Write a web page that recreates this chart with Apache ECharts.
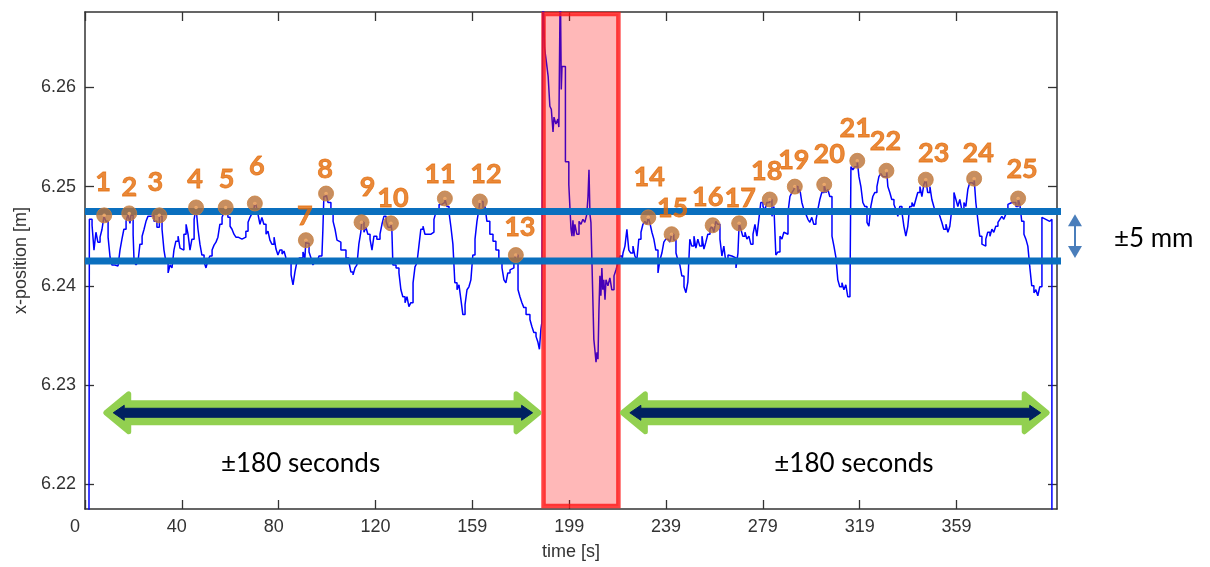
<!DOCTYPE html>
<html>
<head>
<meta charset="utf-8">
<script src="https://cdn.jsdelivr.net/npm/echarts@6/dist/echarts.min.js"></script>
<style>
  html, body { margin: 0; padding: 0; background: #ffffff; }
  #chart { width: 1210px; height: 567px; }
</style>
</head>
<body>
<div id="chart"></div>
<script>
// Axis ticks (time ticks are evenly spaced; labels are their rounded values)
const xTickValues = [0, 39.85, 79.7, 119.55, 159.4, 199.25, 239.1, 278.95, 318.8, 358.65];
const xTickLabels = ['0', '40', '80', '120', '159', '199', '239', '279', '319', '359'];
const yTickValues = [6.22, 6.23, 6.24, 6.25, 6.26];
const yTickLabels = ['6.22', '6.23', '6.24', '6.25', '6.26'];

// Measured x-position over time: [time s, position m]
const positionTrace = [
  [1.6, 6.2100], [1.8, 6.2467], [2.9, 6.2461], [3.7, 6.2436], [4.5, 6.2454], [5.3, 6.2444], [6.2, 6.2449], [7.0, 6.2457],
  [7.8, 6.2470], [8.6, 6.2465], [9.5, 6.2449], [10.3, 6.2429], [11.1, 6.2421], [12.3, 6.2420], [13.6, 6.2422], [14.4, 6.2436],
  [15.2, 6.2447], [16.0, 6.2457], [16.9, 6.2465], [17.7, 6.2472], [18.5, 6.2463], [18.9, 6.2471], [19.8, 6.2452], [20.2, 6.2424],
  [21.0, 6.2421], [21.8, 6.2424], [22.6, 6.2442], [23.5, 6.2450], [24.3, 6.2457], [25.1, 6.2465], [25.9, 6.2470], [27.2, 6.2471],
  [28.4, 6.2465], [29.6, 6.2459], [30.6, 6.2470], [31.7, 6.2457], [32.5, 6.2436], [33.3, 6.2424], [34.2, 6.2413], [35.0, 6.2421],
  [35.8, 6.2418], [36.6, 6.2436], [37.4, 6.2445], [38.3, 6.2450], [39.1, 6.2438], [39.9, 6.2436], [40.7, 6.2452], [41.6, 6.2462],
  [42.4, 6.2452], [43.2, 6.2436], [44.0, 6.2447], [44.9, 6.2467], [45.7, 6.2479], [46.5, 6.2457], [47.3, 6.2442], [48.1, 6.2431],
  [49.0, 6.2424], [49.8, 6.2418], [50.6, 6.2426], [51.4, 6.2430], [52.3, 6.2436], [53.1, 6.2441], [53.9, 6.2444], [54.7, 6.2449],
  [55.5, 6.2462], [56.4, 6.2469], [57.2, 6.2474], [57.9, 6.2478], [58.8, 6.2469], [59.7, 6.2460], [60.5, 6.2457], [61.3, 6.2452],
  [62.1, 6.2449], [63.0, 6.2451], [63.8, 6.2447], [64.6, 6.2449], [65.4, 6.2449], [66.2, 6.2455], [67.1, 6.2464], [67.9, 6.2469],
  [68.7, 6.2473], [69.5, 6.2477], [69.9, 6.2484], [70.4, 6.2481], [71.2, 6.2472], [72.0, 6.2462], [72.8, 6.2469], [73.6, 6.2462],
  [74.5, 6.2452], [75.3, 6.2455], [76.1, 6.2446], [76.9, 6.2442], [77.8, 6.2449], [78.6, 6.2437], [79.4, 6.2431], [80.2, 6.2436],
  [81.1, 6.2432], [81.9, 6.2435], [82.7, 6.2428], [83.5, 6.2424], [83.9, 6.2422], [84.8, 6.2411], [85.6, 6.2401], [86.4, 6.2414],
  [87.2, 6.2424], [88.1, 6.2428], [88.9, 6.2428], [89.7, 6.2434], [90.5, 6.2428], [90.9, 6.2446], [91.3, 6.2443], [92.2, 6.2434],
  [93.0, 6.2428], [93.8, 6.2421], [94.6, 6.2424], [95.5, 6.2424], [96.3, 6.2430], [97.1, 6.2430], [97.5, 6.2428], [97.9, 6.2457],
  [98.3, 6.2490], [99.2, 6.2493], [100.0, 6.2484], [101.2, 6.2474], [102.1, 6.2465], [102.9, 6.2457], [103.7, 6.2446], [104.5, 6.2444],
  [105.3, 6.2436], [106.2, 6.2436], [107.4, 6.2428], [108.6, 6.2424], [109.4, 6.2414], [110.3, 6.2411], [111.1, 6.2418], [111.9, 6.2421],
  [112.7, 6.2442], [113.5, 6.2454], [113.9, 6.2464], [114.8, 6.2454], [115.6, 6.2459], [116.4, 6.2452], [117.3, 6.2447], [118.1, 6.2436],
  [118.9, 6.2450], [120.1, 6.2447], [121.4, 6.2452], [122.2, 6.2462], [123.0, 6.2470], [123.9, 6.2465], [124.7, 6.2459], [125.9, 6.2463],
  [126.3, 6.2455], [126.7, 6.2421], [128.0, 6.2418], [129.2, 6.2413], [130.0, 6.2396], [130.8, 6.2389], [131.7, 6.2383], [132.5, 6.2389],
  [133.3, 6.2379], [134.1, 6.2383], [135.0, 6.2403], [135.8, 6.2419], [136.6, 6.2423], [137.4, 6.2440], [138.2, 6.2457], [139.1, 6.2460],
  [139.9, 6.2452], [141.1, 6.2452], [142.4, 6.2454], [143.6, 6.2467], [144.4, 6.2474], [145.7, 6.2482], [146.9, 6.2484], [148.1, 6.2488],
  [148.9, 6.2480], [149.8, 6.2474], [150.6, 6.2459], [151.4, 6.2442], [152.2, 6.2403], [153.1, 6.2396], [153.9, 6.2401], [154.7, 6.2386],
  [155.5, 6.2371], [156.4, 6.2381], [157.2, 6.2396], [158.0, 6.2399], [158.8, 6.2406], [159.6, 6.2431], [160.5, 6.2447], [161.3, 6.2465],
  [162.1, 6.2477], [162.5, 6.2485], [163.8, 6.2474], [164.6, 6.2480], [165.4, 6.2465], [166.6, 6.2452], [167.9, 6.2445], [169.1, 6.2436],
  [170.3, 6.2423], [171.6, 6.2418], [172.4, 6.2406], [173.2, 6.2403], [174.0, 6.2413], [174.9, 6.2416], [175.7, 6.2418], [176.5, 6.2424],
  [177.3, 6.2431], [178.2, 6.2396], [179.0, 6.2389], [179.8, 6.2383], [180.6, 6.2378], [181.5, 6.2371], [182.3, 6.2371], [183.1, 6.2366],
  [183.9, 6.2359], [184.7, 6.2353], [185.6, 6.2349], [186.4, 6.2343], [187.0, 6.2336], [187.6, 6.2356], [188.0, 6.2363], [188.4, 6.2710],
  [189.1, 6.2640], [189.9, 6.2625], [190.6, 6.2611], [191.3, 6.2581], [191.9, 6.2578], [192.6, 6.2555], [193.0, 6.2570], [193.8, 6.2563],
  [194.6, 6.2568], [195.0, 6.2560], [195.6, 6.2710], [196.0, 6.2598], [196.3, 6.2621], [197.1, 6.2621], [197.7, 6.2525], [198.3, 6.2525],
  [199.1, 6.2502], [199.6, 6.2477], [200.0, 6.2457], [200.4, 6.2450], [200.8, 6.2466], [201.2, 6.2450], [201.6, 6.2462], [202.4, 6.2452],
  [203.3, 6.2465], [204.1, 6.2462], [204.9, 6.2467], [205.7, 6.2464], [206.5, 6.2472], [207.0, 6.2490], [207.4, 6.2517], [207.8, 6.2472],
  [208.2, 6.2464], [208.6, 6.2426], [209.4, 6.2346], [209.8, 6.2336], [210.3, 6.2323], [210.7, 6.2333], [211.1, 6.2326], [211.5, 6.2376],
  [211.9, 6.2410], [212.3, 6.2390], [212.7, 6.2418], [213.1, 6.2396], [213.5, 6.2406], [214.0, 6.2386], [214.4, 6.2406], [215.2, 6.2400],
  [216.0, 6.2408], [216.8, 6.2396], [217.7, 6.2410], [218.5, 6.2416], [219.3, 6.2423], [220.1, 6.2430], [221.0, 6.2426], [221.4, 6.2433],
  [222.2, 6.2440], [223.0, 6.2457], [223.4, 6.2446], [223.8, 6.2436], [224.6, 6.2433], [225.5, 6.2440], [226.3, 6.2430], [227.1, 6.2426],
  [227.9, 6.2447], [228.8, 6.2454], [229.6, 6.2462], [230.4, 6.2465], [231.2, 6.2462], [231.8, 6.2469], [232.5, 6.2463], [233.3, 6.2454],
  [234.1, 6.2447], [234.9, 6.2436], [235.8, 6.2413], [236.6, 6.2426], [237.4, 6.2433], [238.2, 6.2444], [239.0, 6.2447], [239.9, 6.2449],
  [240.7, 6.2444], [241.4, 6.2452], [242.3, 6.2446], [243.2, 6.2433], [244.0, 6.2426], [244.8, 6.2421], [245.6, 6.2410], [246.5, 6.2399],
  [247.3, 6.2393], [248.1, 6.2404], [248.9, 6.2447], [249.7, 6.2440], [250.6, 6.2450], [251.4, 6.2438], [252.2, 6.2447], [253.0, 6.2440],
  [253.9, 6.2450], [254.7, 6.2437], [255.5, 6.2444], [256.3, 6.2452], [257.2, 6.2457], [258.0, 6.2460], [258.3, 6.2461], [258.8, 6.2454],
  [259.6, 6.2465], [260.4, 6.2462], [261.3, 6.2447], [262.1, 6.2430], [262.9, 6.2440], [263.7, 6.2424], [264.6, 6.2431], [265.4, 6.2430],
  [266.2, 6.2431], [267.0, 6.2428], [267.9, 6.2418], [268.7, 6.2433], [269.2, 6.2463], [269.9, 6.2457], [270.7, 6.2450], [271.6, 6.2454],
  [272.4, 6.2447], [273.2, 6.2450], [274.0, 6.2442], [274.9, 6.2452], [275.7, 6.2462], [276.5, 6.2450], [277.3, 6.2467], [278.1, 6.2484],
  [279.0, 6.2480], [279.8, 6.2476], [280.6, 6.2484], [281.8, 6.2487], [282.7, 6.2470], [283.5, 6.2480], [284.3, 6.2431], [285.1, 6.2434],
  [286.0, 6.2450], [286.8, 6.2447], [287.6, 6.2454], [288.4, 6.2452], [289.3, 6.2474], [290.1, 6.2490], [290.9, 6.2494], [291.7, 6.2497],
  [292.1, 6.2500], [293.4, 6.2494], [294.2, 6.2497], [295.0, 6.2484], [295.8, 6.2477], [296.7, 6.2472], [297.5, 6.2467], [298.3, 6.2464],
  [299.1, 6.2469], [299.9, 6.2462], [300.8, 6.2466], [301.6, 6.2477], [302.4, 6.2487], [303.2, 6.2494], [304.2, 6.2502], [304.9, 6.2494],
  [305.7, 6.2497], [306.5, 6.2490], [307.4, 6.2450], [308.2, 6.2440], [309.0, 6.2429], [309.8, 6.2406], [310.6, 6.2399], [311.5, 6.2403],
  [312.3, 6.2396], [313.1, 6.2401], [313.9, 6.2389], [314.8, 6.2392], [315.2, 6.2520], [316.0, 6.2517], [316.8, 6.2520], [317.8, 6.2526],
  [318.5, 6.2510], [319.3, 6.2500], [320.1, 6.2484], [320.9, 6.2480], [321.8, 6.2464], [322.6, 6.2460], [323.4, 6.2480], [324.2, 6.2490],
  [325.0, 6.2494], [325.9, 6.2500], [326.7, 6.2510], [327.5, 6.2513], [328.3, 6.2510], [329.9, 6.2516], [330.4, 6.2500], [331.2, 6.2494],
  [332.0, 6.2487], [332.9, 6.2482], [333.7, 6.2477], [334.5, 6.2470], [335.3, 6.2480], [336.2, 6.2474], [337.0, 6.2460], [337.8, 6.2450],
  [338.6, 6.2460], [339.4, 6.2480], [340.3, 6.2484], [341.1, 6.2480], [341.9, 6.2487], [342.7, 6.2494], [343.6, 6.2500], [344.4, 6.2490],
  [345.2, 6.2502], [346.0, 6.2507], [346.8, 6.2494], [347.7, 6.2500], [348.5, 6.2487], [349.3, 6.2480], [350.1, 6.2472], [351.0, 6.2477],
  [351.8, 6.2470], [352.6, 6.2464], [353.4, 6.2457], [354.3, 6.2462], [355.1, 6.2454], [355.9, 6.2460], [356.7, 6.2477], [357.6, 6.2494],
  [358.4, 6.2487], [359.2, 6.2480], [360.0, 6.2487], [360.8, 6.2477], [361.7, 6.2484], [362.5, 6.2480], [363.3, 6.2497], [364.1, 6.2504],
  [365.0, 6.2502], [365.9, 6.2508], [366.6, 6.2484], [367.4, 6.2467], [368.2, 6.2450], [369.1, 6.2442], [369.9, 6.2440], [370.7, 6.2447],
  [371.5, 6.2454], [372.4, 6.2450], [373.2, 6.2457], [374.0, 6.2454], [374.8, 6.2460], [375.7, 6.2464], [376.5, 6.2467], [377.3, 6.2470],
  [378.1, 6.2467], [378.9, 6.2472], [379.8, 6.2482], [380.6, 6.2484], [381.4, 6.2482], [382.2, 6.2484], [383.1, 6.2480], [384.0, 6.2488],
  [384.7, 6.2482], [385.5, 6.2465], [386.4, 6.2452], [387.2, 6.2447], [388.0, 6.2440], [388.8, 6.2419], [389.6, 6.2400], [390.5, 6.2393],
  [391.3, 6.2396], [392.1, 6.2390], [392.9, 6.2399], [393.8, 6.2469], [394.6, 6.2467], [395.4, 6.2469], [396.2, 6.2465], [397.0, 6.2467],
  [397.9, 6.2100]
];

// Numbered peaks
const peakTime = [7.9, 18.2, 30.6, 45.7, 57.9, 69.9, 90.9, 99.2, 113.8, 125.9, 148.1, 162.5, 177.3,
                  231.8, 241.4, 258.3, 269.2, 281.8, 292.1, 304.2, 317.8, 329.8, 346.0, 365.9, 384.0];
const peakPos = [6.2471, 6.2473, 6.2471, 6.2479, 6.2479, 6.2483, 6.2446, 6.2493, 6.2464, 6.2463, 6.2488, 6.2485, 6.2431,
                 6.2469, 6.2452, 6.2461, 6.2463, 6.2487, 6.2500, 6.2502, 6.2526, 6.2516, 6.2507, 6.2508, 6.2488];

// Tolerance band edges (m) and the time they are drawn out to (s)
const bandLevels = [6.2475, 6.2425];
const bandEnd = 409.4;

// Excluded window: [start s, end s, bottom m, top m]
const excludedWindow = [188.7, 219.5, 6.2178, 6.2674];

// Analysis windows either side: [start s, end s, level m]
const windowArrows = [[7.5, 187.9, 6.2272], [220.1, 397.0, 6.2272]];
// Text notes: [time s, position m, text]
const noteTexts = [
  [88.7, 6.2221, '±180 seconds'],
  [316.4, 6.2221, '±180 seconds'],
  [439.8, 6.2448, '±5 mm']
];
// Band-width marker: [time s, upper m, lower m]
const bandWidthArrow = [407.4, 6.2472, 6.2428];

// Label nudges for the peak numbers, in pixels
const labelNudge = [[-1,-33],[0,-26],[-4,-33],[-1,-28],[1,-28],[2,-37],[-1,-24],[-1,-24],[6,-35],[2,-25],
                    [-5,-24],[6,-27],[4,-28],[1,-40],[1,-26],[-5,-28],[1,-25],[-3,-28],[-1,-26],[5,-30],
                    [-2,-33],[-1,-29],[8,-26],[4,-25],[4,-29]];

const AXIS_COLOR = '#333333';
const TICK_FONT = { fontFamily: 'Liberation Sans, Arial, sans-serif', fontSize: 18, color: '#333333' };

function nearestLabel(values, labels, v) {
  let best = 0;
  for (let i = 1; i < values.length; i++) {
    if (Math.abs(values[i] - v) < Math.abs(values[best] - v)) best = i;
  }
  return labels[best];
}

function frameAxis(extra) {
  return Object.assign({
    type: 'value',
    axisLine: { show: true, onZero: false, lineStyle: { color: AXIS_COLOR, width: 1.5 } },
    splitLine: { show: false }
  }, extra);
}

const chart = echarts.init(document.getElementById('chart'), null, { renderer: 'canvas' });

const option = {
  backgroundColor: '#ffffff',
  animation: false,
  grid: { left: 85, right: 153, top: 12, bottom: 58, containLabel: false },
  xAxis: [
    frameAxis({
      position: 'bottom', min: 0, max: 400,
      axisTick: { show: true, inside: true, length: 9, customValues: xTickValues, lineStyle: { color: AXIS_COLOR, width: 1.3 } },
      axisLabel: Object.assign({
        customValues: xTickValues, margin: 9,
        formatter: function (v) {
          const s = nearestLabel(xTickValues, xTickLabels, v);
          return s + '  '.repeat(3 - s.length);
        }
      }, TICK_FONT),
      name: 'time [s]', nameLocation: 'middle', nameGap: 34,
      nameTextStyle: { fontFamily: 'Liberation Sans, Arial, sans-serif', fontSize: 18, color: '#333333' }
    }),
    frameAxis({
      position: 'top', min: 0, max: 400,
      axisTick: { show: true, inside: true, length: 9, customValues: xTickValues, lineStyle: { color: AXIS_COLOR, width: 1.3 } },
      axisLabel: { show: false }
    })
  ],
  yAxis: [
    frameAxis({
      position: 'left', min: 6.2175, max: 6.2676,
      axisTick: { show: true, inside: true, length: 9, customValues: yTickValues, lineStyle: { color: AXIS_COLOR, width: 1.3 } },
      axisLabel: Object.assign({
        customValues: yTickValues, margin: 9,
        formatter: function (v) { return nearestLabel(yTickValues, yTickLabels, v); }
      }, TICK_FONT),
      name: 'x-position [m]', nameLocation: 'middle', nameGap: 54, nameRotate: 90,
      nameTextStyle: { fontFamily: 'Liberation Sans, Arial, sans-serif', fontSize: 18, color: '#333333' }
    }),
    frameAxis({
      position: 'right', min: 6.2175, max: 6.2676,
      axisTick: { show: true, inside: true, length: 9, customValues: yTickValues, lineStyle: { color: AXIS_COLOR, width: 1.3 } },
      axisLabel: { show: false }
    })
  ],
  series: [
    {
      name: 'x-position',
      type: 'line',
      data: positionTrace,
      step: 'end',
      showSymbol: false,
      clip: true,
      z: 2,
      lineStyle: { color: '#0000ff', width: 1.5 },
      silent: true
    },
    {
      name: 'excluded window',
      type: 'custom',
      z: 3,
      silent: true,
      data: [excludedWindow],
      encode: { x: [0, 1], y: [2, 3] },
      renderItem: function (params, api) {
        const a = api.coord([api.value(0), api.value(3)]);
        const b = api.coord([api.value(1), api.value(2)]);
        return {
          type: 'rect',
          shape: { x: a[0], y: a[1], width: b[0] - a[0], height: b[1] - a[1] },
          style: { fill: 'rgba(255,0,0,0.28)', stroke: 'rgba(255,25,25,0.82)', lineWidth: 4.5 }
        };
      }
    },
    ...bandLevels.map(function (level) {
      return {
        type: 'line',
        data: [[0, level], [bandEnd, level]],
        showSymbol: false,
        clip: false,
        z: 4,
        silent: true,
        lineStyle: { color: '#0a6fbe', width: 7, cap: 'butt' }
      };
    }),
    {
      name: 'peaks',
      type: 'scatter',
      z: 6,
      symbol: 'circle',
      symbolSize: 15,
      itemStyle: { color: '#b97238', borderColor: '#c9813f', borderWidth: 1 },
      data: peakTime.map(function (t, i) {
        return { value: [t, peakPos[i]], label: { offset: labelNudge[i] } };
      }),
      label: {
        show: true,
        position: 'inside',
        formatter: function (p) { return String(p.dataIndex + 1); },
        fontFamily: 'Lato, sans-serif',
        fontWeight: 'bold',
        fontSize: 27,
        color: '#e36c09',
        textBorderColor: '#e36c09',
        textBorderWidth: 0.8
      },
      silent: true
    },
    {
      name: 'peak centres',
      type: 'scatter',
      z: 7,
      symbol: 'circle',
      symbolSize: 3.5,
      itemStyle: { color: '#f7b26e' },
      data: peakTime.map(function (t, i) { return [t, peakPos[i]]; }),
      silent: true
    },
    {
      name: 'window arrows',
      type: 'custom',
      z: 8,
      silent: true,
      clip: false,
      data: windowArrows,
      encode: { x: [0, 1], y: 2 },
      renderItem: function (params, api) {
        const l = api.coord([api.value(0), api.value(2)]);
        const r = api.coord([api.value(1), api.value(2)]);
        const c = l[1];
        const xl = l[0] + 2.5, xr = r[0] - 2.5;
        const hl = 23, hh = 19, sh = 10;
        const green = [
          [xl, c], [xl + hl, c - hh], [xl + hl, c - sh], [xr - hl, c - sh], [xr - hl, c - hh], [xr, c],
          [xr - hl, c + hh], [xr - hl, c + sh], [xl + hl, c + sh], [xl + hl, c + hh]
        ];
        const nl = l[0] + 10, nr = r[0] - 9;
        const nhl = 11, nhh = 7.5, nsh = 4.5;
        const navy = [
          [nl, c], [nl + nhl, c - nhh], [nl + nhl, c - nsh], [nr - nhl, c - nsh], [nr - nhl, c - nhh], [nr, c],
          [nr - nhl, c + nhh], [nr - nhl, c + nsh], [nl + nhl, c + nsh], [nl + nhl, c + nhh]
        ];
        return {
          type: 'group',
          children: [
            { type: 'polygon', shape: { points: green }, style: { fill: '#92d050', stroke: '#92d050', lineWidth: 5, lineJoin: 'round' } },
            { type: 'polygon', shape: { points: navy }, style: { fill: '#002060', stroke: '#002060', lineWidth: 1, lineJoin: 'miter' } }
          ]
        };
      }
    },
    {
      name: 'band width',
      type: 'custom',
      z: 8,
      silent: true,
      clip: false,
      data: [bandWidthArrow],
      encode: { x: 0, y: [1, 2] },
      renderItem: function (params, api) {
        const top = api.coord([api.value(0), api.value(1)]);
        const bot = api.coord([api.value(0), api.value(2)]);
        const x = top[0], hw = 7, hl = 12;
        const color = '#4a7ebb';
        return {
          type: 'group',
          children: [
            { type: 'line', shape: { x1: x, y1: top[1] + hl - 1, x2: x, y2: bot[1] - hl + 1 }, style: { stroke: color, lineWidth: 2 } },
            { type: 'polygon', shape: { points: [[x, top[1]], [x - hw, top[1] + hl], [x + hw, top[1] + hl]] }, style: { fill: color } },
            { type: 'polygon', shape: { points: [[x, bot[1]], [x - hw, bot[1] - hl], [x + hw, bot[1] - hl]] }, style: { fill: color } }
          ]
        };
      }
    },
    {
      name: 'notes',
      type: 'custom',
      z: 9,
      silent: true,
      clip: false,
      data: noteTexts.map(function (n) { return [n[0], n[1]]; }),
      encode: { x: 0, y: 1 },
      renderItem: function (params, api) {
        const p = api.coord([api.value(0), api.value(1)]);
        return {
          type: 'text',
          x: p[0], y: p[1],
          style: {
            text: noteTexts[params.dataIndex][2],
            fill: '#000000',
            font: '26px Lato, sans-serif',
            align: 'center',
            verticalAlign: 'middle'
          }
        };
      }
    }
  ]
};

chart.setOption(option);
</script>
</body>
</html>
